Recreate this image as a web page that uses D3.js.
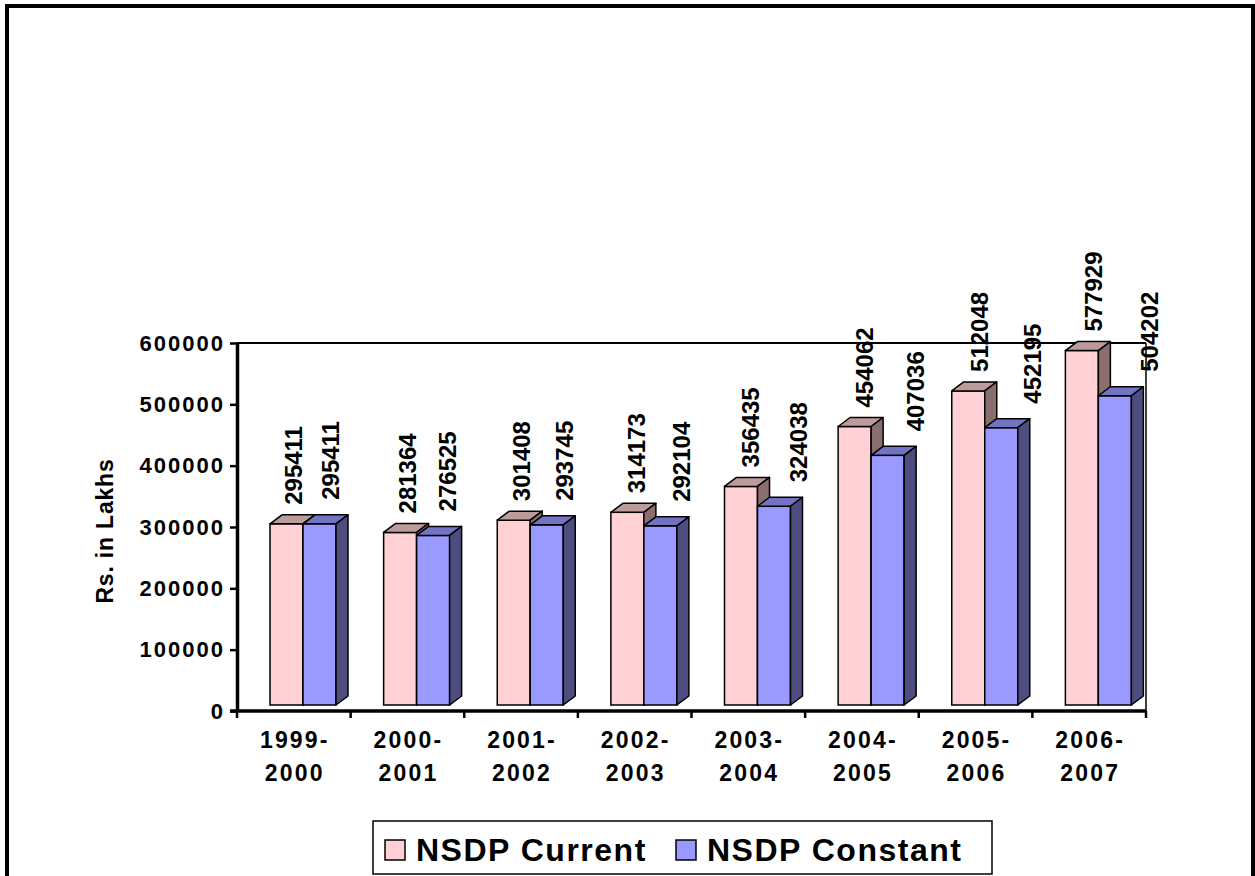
<!DOCTYPE html>
<html>
<head>
<meta charset="utf-8">
<script src="https://cdn.jsdelivr.net/npm/d3@7"></script>
<style>
  body { margin: 0; background: #fff; }
  text { font-family: "Liberation Sans", Arial, sans-serif; font-weight: bold; fill: #000; }
</style>
</head>
<body>
<div class="chart"></div>
<script>
// data
var years = ["1999-2000", "2000-2001", "2001-2002", "2002-2003", "2003-2004", "2004-2005", "2005-2006", "2006-2007"];
var nsdpCurrent = [295411, 281364, 301408, 314173, 356435, 454062, 512048, 577929];
var nsdpConstant = [295411, 276525, 293745, 292104, 324038, 407036, 452195, 504202];
var seriesNames = ["NSDP Current", "NSDP Constant"];
var yTicks = [0, 100000, 200000, 300000, 400000, 500000, 600000];

function drawChart() {
var width = 1255, height = 876;
var pLeft = 237, pRight = 1146, pTop = 343, pBottom = 711;
var depthX = 12, depthY = 9, lift = 6, barW = 33, barOffset = 33;

var colors = [
  {front: "#FFD0D4", top: "#BE9B9B", side: "#8A6E6E"},
  {front: "#9999FF", top: "#7373C4", side: "#4D4D80"}
];

var svg = d3.select(".chart").append("svg")
    .attr("width", width)
    .attr("height", height);

// outer frame
svg.append("rect")
    .attr("x", 7).attr("y", 6)
    .attr("width", 1246).attr("height", 900)
    .attr("fill", "none")
    .attr("stroke", "#000")
    .attr("stroke-width", 4);

var x = d3.scaleBand().domain(years).range([pLeft, pRight]).padding(0);
var y = d3.scaleLinear().domain([0, 600000]).range([pBottom, pTop]);
// bars stand on the floor, a little above the axis line
var yBar = d3.scaleLinear().domain([0, 600000]).range([pBottom - lift, pTop - lift]);

// back wall lines
svg.append("line")
    .attr("x1", pLeft).attr("x2", pRight)
    .attr("y1", y(600000)).attr("y2", y(600000))
    .attr("stroke", "#000").attr("stroke-width", 2);
svg.append("line")
    .attr("x1", pRight).attr("x2", pRight)
    .attr("y1", y(600000)).attr("y2", pBottom)
    .attr("stroke", "#000").attr("stroke-width", 1.5);

// y axis
var yAxis = svg.append("g")
    .attr("transform", "translate(" + pLeft + ",0)")
    .call(d3.axisLeft(y).tickValues(yTicks).tickFormat(d3.format("d"))
      .tickSize(7).tickSizeOuter(0).tickPadding(8));
yAxis.select(".domain").attr("stroke-width", 3.5);
yAxis.selectAll(".tick line").attr("stroke-width", 2.5);
yAxis.selectAll(".tick text")
    .style("font-size", "22px")
    .style("letter-spacing", "2px")
    .attr("dx", "3px");

svg.append("text")
    .attr("transform", "translate(113," + ((pTop + pBottom) / 2 + 4) + ") rotate(-90)")
    .attr("text-anchor", "middle")
    .style("font-size", "23px")
    .style("letter-spacing", "0.8px")
    .text("Rs. in Lakhs");

// x axis
svg.append("line")
    .attr("x1", pLeft - 7).attr("x2", pRight)
    .attr("y1", pBottom).attr("y2", pBottom)
    .attr("stroke", "#000").attr("stroke-width", 3.5);

var edges = years.map(function(d) { return x(d); }).concat([pRight]);
svg.selectAll(".xtick")
    .data(edges)
    .enter().append("line")
    .attr("class", "xtick")
    .attr("x1", function(d) { return d; })
    .attr("x2", function(d) { return d; })
    .attr("y1", pBottom).attr("y2", pBottom + 7)
    .attr("stroke", "#000").attr("stroke-width", 2.5);

var catLabel = svg.selectAll(".cat")
    .data(years)
    .enter().append("text")
    .attr("class", "cat")
    .attr("text-anchor", "middle")
    .style("font-size", "23px")
    .style("letter-spacing", "2.2px");
catLabel.append("tspan")
    .attr("x", function(d) { return x(d) + x.bandwidth() / 2 + 1; })
    .attr("y", 748)
    .text(function(d) { return d.split("-")[0] + "-"; });
catLabel.append("tspan")
    .attr("x", function(d) { return x(d) + x.bandwidth() / 2 + 1; })
    .attr("y", 781)
    .text(function(d) { return d.split("-")[1]; });

// 3d columns
var bars = [];
years.forEach(function(yr, i) {
  [nsdpCurrent[i], nsdpConstant[i]].forEach(function(v, s) {
    bars.push({year: yr, i: i, s: s, value: v});
  });
});

var g = svg.selectAll(".bar")
    .data(bars)
    .enter().append("g")
    .attr("class", "bar");

function x0(d) { return x(d.year) + barOffset + d.s * barW; }

g.append("rect")
    .attr("x", x0)
    .attr("y", function(d) { return yBar(d.value); })
    .attr("width", barW)
    .attr("height", function(d) { return yBar(0) - yBar(d.value); })
    .attr("fill", function(d) { return colors[d.s].front; })
    .attr("stroke", "#000").attr("stroke-width", 1.5);

g.append("path")
    .attr("d", function(d) {
      var a = x0(d), t = yBar(d.value);
      return "M" + a + "," + t + "L" + (a + depthX) + "," + (t - depthY) +
             "L" + (a + barW + depthX) + "," + (t - depthY) + "L" + (a + barW) + "," + t + "Z";
    })
    .attr("fill", function(d) { return colors[d.s].top; })
    .attr("stroke", "#000").attr("stroke-width", 1.5).attr("stroke-linejoin", "round");

g.append("path")
    .attr("d", function(d) {
      var a = x0(d) + barW, t = yBar(d.value), b = yBar(0);
      return "M" + a + "," + t + "L" + (a + depthX) + "," + (t - depthY) +
             "L" + (a + depthX) + "," + (b - depthY) + "L" + a + "," + b + "Z";
    })
    .attr("fill", function(d) { return colors[d.s].side; })
    .attr("stroke", "#000").attr("stroke-width", 1.5).attr("stroke-linejoin", "round");

// value labels, drift a bit to the right with the perspective
var labelBase = [6.5, 11], labelDrift = [0.7, 3.3], labelGap = [19, 24];
svg.selectAll(".val")
    .data(bars)
    .enter().append("text")
    .attr("class", "val")
    .attr("transform", function(d) {
      var cx = x0(d) + barW / 2 + labelBase[d.s] + labelDrift[d.s] * d.i;
      var cy = yBar(d.value) - labelGap[d.s];
      return "translate(" + cx + "," + cy + ") rotate(-90)";
    })
    .attr("dy", "0.36em")
    .style("font-size", "24px")
    .text(function(d) { return d.value; });

// legend
svg.append("rect")
    .attr("x", 373).attr("y", 821)
    .attr("width", 619).attr("height", 53)
    .attr("fill", "#fff")
    .attr("stroke", "#000").attr("stroke-width", 1.5);

var legX = [385, 676];
var leg = svg.selectAll(".leg")
    .data(seriesNames)
    .enter().append("g")
    .attr("class", "leg")
    .attr("transform", function(d, i) { return "translate(" + legX[i] + ",840)"; });
leg.append("rect")
    .attr("width", 20).attr("height", 20)
    .attr("fill", function(d, i) { return colors[i].front; })
    .attr("stroke", "#000").attr("stroke-width", 1.5);
leg.append("text")
    .attr("x", 31).attr("y", 21)
    .style("font-size", "32px")
    .style("letter-spacing", "1.5px")
    .text(function(d) { return d; });
}
drawChart();
</script>
</body>
</html>
